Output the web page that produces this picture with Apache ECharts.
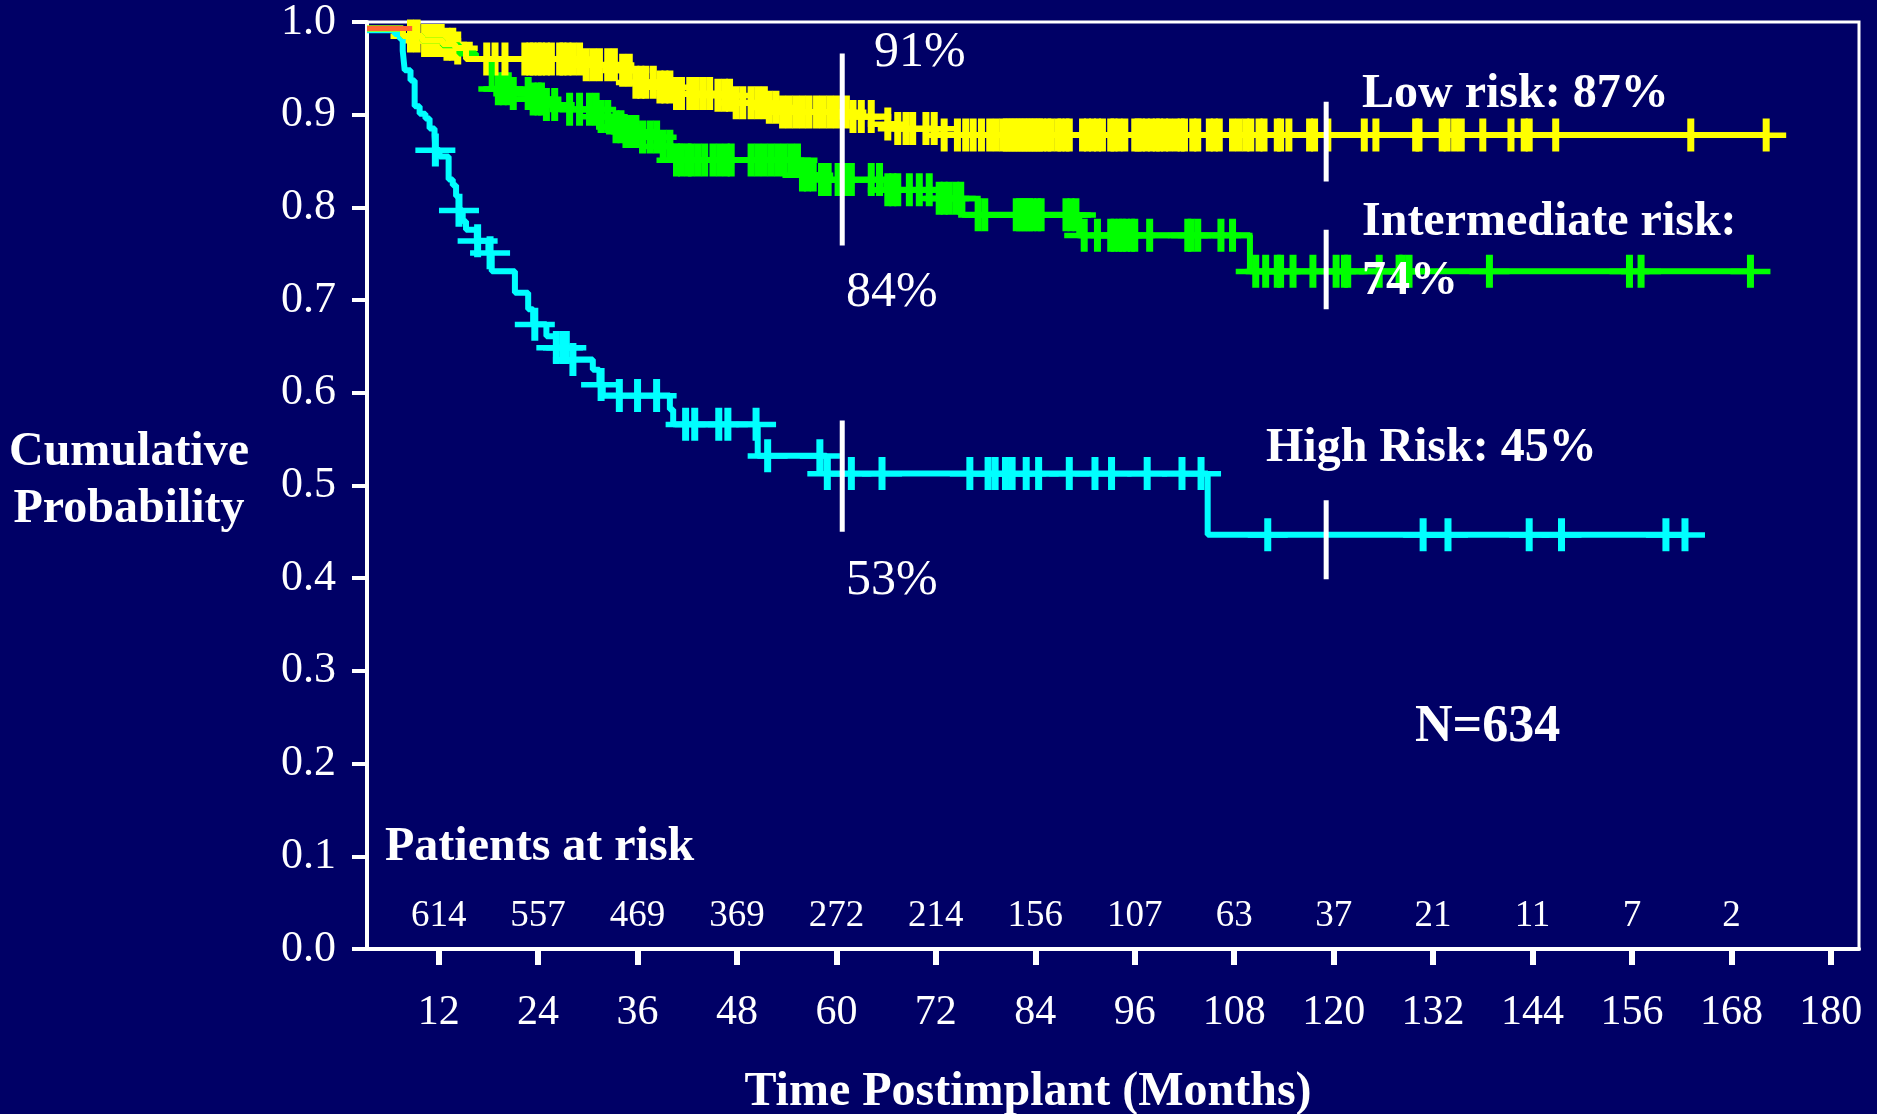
<!DOCTYPE html>
<html>
<head>
<meta charset="utf-8">
<script src="https://cdn.jsdelivr.net/npm/echarts@6/dist/echarts.min.js"></script>
</head>
<body style="margin:0;background:#000066">
<div id="container" style="width:1877px;height:1114px"></div>
<script>
// axis ticks (months)
var xTicks = [12, 24, 36, 48, 60, 72, 84, 96, 108, 120, 132, 144, 156, 168, 180];

// patients at risk under each tick
var riskMonths = [12, 24, 36, 48, 60, 72, 84, 96, 108, 120, 132, 144, 156, 168];
var riskCounts = [614, 557, 469, 369, 272, 214, 156, 107, 63, 37, 21, 11, 7, 2];

// Kaplan-Meier steps [month, survival after the drop]
var lowSteps = [[3.35, 0.993], [7.7, 0.985], [10.0, 0.980], [12.5, 0.976], [14.0, 0.972], [15.3, 0.960],
    [29.4, 0.954], [33.8, 0.948], [35.8, 0.935], [38.7, 0.930], [40.3, 0.923], [45.5, 0.921],
    [47.7, 0.913], [51.9, 0.908], [53.5, 0.903], [62.0, 0.898], [66.2, 0.890], [67.2, 0.885], [72.0, 0.878]];
var midSteps = [[3.35, 0.993], [7.7, 0.985], [10.0, 0.980], [12.5, 0.975], [14.5, 0.966], [16.5, 0.960],
    [18.4, 0.928], [21.0, 0.923], [23.4, 0.917], [25.0, 0.911], [26.6, 0.906], [31.4, 0.898],
    [33.0, 0.887], [34.6, 0.882], [36.6, 0.876], [38.7, 0.866], [40.3, 0.851], [55.5, 0.835],
    [58.0, 0.830], [66.0, 0.819], [72.4, 0.810], [75.2, 0.792], [89.3, 0.770], [109.9, 0.731]];
var highSteps = [[3.35, 0.991], [6.7, 0.987], [7.3, 0.982], [7.66, 0.969], [7.9, 0.948], [8.6, 0.937],
    [9.1, 0.909], [9.7, 0.901], [10.4, 0.896], [10.9, 0.885], [11.5, 0.878], [11.6, 0.862],
    [12.1, 0.855], [13.2, 0.830], [13.7, 0.824], [14.1, 0.812], [14.45, 0.797], [14.9, 0.785],
    [15.3, 0.776], [16.6, 0.764], [18.0, 0.751], [18.4, 0.731], [21.2, 0.708], [22.8, 0.690],
    [23.4, 0.674], [25.0, 0.661], [26.2, 0.649], [28.2, 0.636], [30.6, 0.625], [31.4, 0.609],
    [31.8, 0.597], [39.9, 0.582], [40.3, 0.566], [50.5, 0.532], [58.8, 0.513], [104.8, 0.447]];
var otherSteps = [[3.35, 0.993], [8.8, 0.993]];

// censored observations (months)
var lowCensor = [8.6, 9.4, 10.3, 11.1, 11.7, 12.3, 13.0, 13.7, 14.3, 17.8, 18.8, 20.0,
    22.4, 23.0, 23.4, 24.0, 24.4, 25.0, 25.6, 26.6, 27.0, 27.6, 28.2, 29.0, 29.8, 30.6, 31.4, 32.4, 33.2,
    34.2, 35.0, 35.8, 36.4, 37.0, 37.9, 38.7, 39.3, 39.9, 40.7, 41.3, 42.3, 43.1, 43.9, 44.7, 45.7,
    46.5, 47.1, 47.9, 48.7, 49.7, 50.5, 51.3, 51.9, 52.7, 53.5, 54.3, 55.1, 55.9, 56.7, 57.6, 58.4,
    59.2, 60.0, 61.2, 62.0, 63.0, 64.2, 66.2, 67.4, 68.4, 69.2, 70.8, 71.8, 73.0, 74.6, 75.6, 76.5,
    77.5, 78.5, 79.3, 80.1, 80.5, 80.9, 81.3, 81.7, 82.1, 82.5, 82.9, 83.3, 83.7, 84.1, 84.5, 84.9,
    85.5, 85.9, 86.7, 87.1, 87.7, 88.1, 89.7, 90.3, 90.9, 91.5, 92.1, 93.1, 93.5, 94.1, 94.8, 96.0,
    96.4, 96.8, 97.4, 98.0, 98.6, 99.0, 99.6, 100.2, 101.0, 101.6, 102.0, 103.0, 103.6, 105.0, 105.6,
    106.2, 107.8, 108.6, 109.4, 110.0, 111.0, 111.6, 113.2, 113.6, 114.6, 117.1, 117.7, 119.3,
    123.7, 125.1, 129.9, 130.3, 133.1, 133.7, 134.6, 135.4, 138.0, 141.4, 143.0, 143.6, 146.8, 163.1, 172.2];
var midCensor = [19.2, 19.8, 20.4, 21.0, 22.8, 23.4, 24.0, 24.4, 25.0, 26.0, 27.8, 29.0, 30.2, 31.0,
    31.6, 32.4, 33.4, 34.0, 34.6, 35.2, 35.8, 36.6, 37.5, 38.3, 39.1, 39.9, 40.7, 41.3, 42.1, 42.5,
    43.3, 44.1, 45.1, 45.9, 46.7, 47.3, 49.7, 50.5, 51.3, 52.1, 52.9, 53.7, 54.5, 55.3, 55.9, 56.5,
    57.2, 58.2, 59.0, 60.2, 61.0, 61.8, 64.2, 65.2, 66.2, 66.8, 67.4, 68.8, 70.0, 71.2, 72.4, 73.0,
    73.6, 74.4, 75.0, 77.1, 77.9, 81.7, 82.1, 82.5, 82.9, 83.3, 83.7, 84.3, 84.7, 87.7, 88.3, 88.9,
    89.9, 91.5, 93.1, 93.5, 94.1, 94.5, 95.0, 95.6, 96.0, 97.8, 102.4, 102.8, 103.6, 106.4, 107.8,
    110.6, 111.8, 113.2, 113.6, 115.1, 117.5, 120.3, 121.3, 121.7, 125.5, 127.9, 128.3, 129.1,
    138.8, 155.7, 157.1, 170.3];
var highCensor = [11.6, 14.45, 16.7, 18.2, 23.6, 26.2, 27.0, 27.4, 28.2, 31.6, 33.8, 36.0, 38.3,
    41.8, 42.9, 45.8, 46.9, 50.3, 51.7, 58.0, 58.9, 61.8, 65.5, 76.1, 78.3, 79.15, 80.4, 81.2, 82.9,
    84.4, 88.1, 91.2, 93.2, 97.5, 101.7, 104.0, 112.05, 130.8, 133.8, 143.6, 147.5, 160.1, 162.4];

// white landmark bars [month, top, bottom]
var landmarks = [[60.7, 0.966, 0.759], [60.7, 0.570, 0.450],
    [119.1, 0.914, 0.828], [119.1, 0.776, 0.690], [119.1, 0.484, 0.399]];

var SERIF = '"Liberation Serif", "Times New Roman", Times, serif';
var PLUS = 'path://M0,14 L40,14 L40,19.5 L0,19.5 Z M16.5,0 L23.5,0 L23.5,33 L16.5,33 Z';

function valueAt(steps, t) {
    var v = steps[0][1];
    for (var i = 0; i < steps.length; i++) {
        if (steps[i][0] <= t) v = steps[i][1];
    }
    return v;
}

function curve(name, steps, censor, color) {
    var last = censor[censor.length - 1];
    var pts = steps.concat([[Math.max(last, steps[steps.length - 1][0]), steps[steps.length - 1][1]]]);
    return [{
        name: name,
        type: 'line',
        step: 'end',
        symbol: 'none',
        data: pts,
        lineStyle: { color: color, width: 6, opacity: 1 },
        silent: true
    }, {
        name: name + ' censored',
        type: 'scatter',
        symbol: PLUS,
        symbolSize: [40, 33],
        itemStyle: { color: color, opacity: 1 },
        data: censor.map(function (t) { return [t, valueAt(steps, t)]; }),
        silent: true
    }];
}

function text(str, x, y, font, align) {
    return {
        type: 'text', x: x, y: y, z: 100,
        style: {
            text: str, fill: '#fff', font: font,
            align: align, textAlign: align,
            verticalAlign: 'middle', textVerticalAlign: 'middle'
        }
    };
}

var series = []
    .concat(curve('High risk', highSteps, highCensor, '#00ffff'))
    .concat(curve('Intermediate risk', midSteps, midCensor, '#00ff00'))
    .concat(curve('Low risk', lowSteps, lowCensor, '#ffff00'));

series.push({
    name: 'other', type: 'line', symbol: 'none', data: otherSteps,
    lineStyle: { color: '#ff6633', width: 5 }, silent: true
});

landmarks.forEach(function (m) {
    series.push({
        type: 'line', symbol: 'none', z: 10, silent: true,
        data: [[m[0], m[1]], [m[0], m[2]]],
        lineStyle: { color: '#ffffff', width: 5 }
    });
});

series.push({
    name: 'at risk', type: 'scatter', symbolSize: 0, silent: true,
    itemStyle: { opacity: 1 },
    data: riskMonths.map(function (m, i) { return [m, 0.035, riskCounts[i]]; }),
    label: {
        show: true, position: 'inside', color: '#ffffff', opacity: 1,
        fontFamily: SERIF, fontSize: 37,
        formatter: function (p) { return p.value[2]; }
    }
});

var chart = echarts.init(document.getElementById('container'));
chart.setOption({
    backgroundColor: '#000066',
    animation: false,
    grid: {
        left: 367, right: 18, top: 18, bottom: 165,
        show: true, borderColor: '#ffffff', borderWidth: 3
    },
    xAxis: {
        type: 'value', min: 3.35, max: 183.4,
        axisLine: { show: true, onZero: false, lineStyle: { color: '#fff', width: 4 } },
        axisTick: { show: true, length: 16, customValues: xTicks, lineStyle: { color: '#fff', width: 6 } },
        axisLabel: { color: '#fff', fontFamily: SERIF, fontSize: 42, margin: 43, customValues: xTicks },
        splitLine: { show: false }
    },
    yAxis: {
        type: 'value', min: 0, max: 1, interval: 0.1,
        axisLine: { show: true, lineStyle: { color: '#fff', width: 4 } },
        axisTick: { show: true, length: 15, lineStyle: { color: '#fff', width: 4 } },
        axisLabel: {
            color: '#fff', fontFamily: SERIF, fontSize: 44, margin: 31,
            padding: [12, 0, 0, 0],
            formatter: function (v) { return v.toFixed(1); }
        },
        splitLine: { show: false }
    },
    graphic: [
        text('Cumulative', 129, 453, 'bold 48px ' + SERIF, 'center'),
        text('Probability', 129, 510, 'bold 48px ' + SERIF, 'center'),
        text('Time Postimplant (Months)', 1028, 1093, 'bold 48px ' + SERIF, 'center'),
        text('Patients at risk', 385, 848, 'bold 48px ' + SERIF, 'left'),
        text('N=634', 1415, 728, 'bold 52px ' + SERIF, 'left'),
        text('Low risk: 87%', 1362, 95, 'bold 48px ' + SERIF, 'left'),
        text('Intermediate risk:', 1362, 223, 'bold 48px ' + SERIF, 'left'),
        text('74%', 1362, 282, 'bold 48px ' + SERIF, 'left'),
        text('High Risk: 45%', 1266, 449, 'bold 48px ' + SERIF, 'left'),
        text('91%', 874, 53, '50px ' + SERIF, 'left'),
        text('84%', 846, 293, '50px ' + SERIF, 'left'),
        text('53%', 846, 581, '50px ' + SERIF, 'left')
    ],
    series: series
});
</script>
</body>
</html>
